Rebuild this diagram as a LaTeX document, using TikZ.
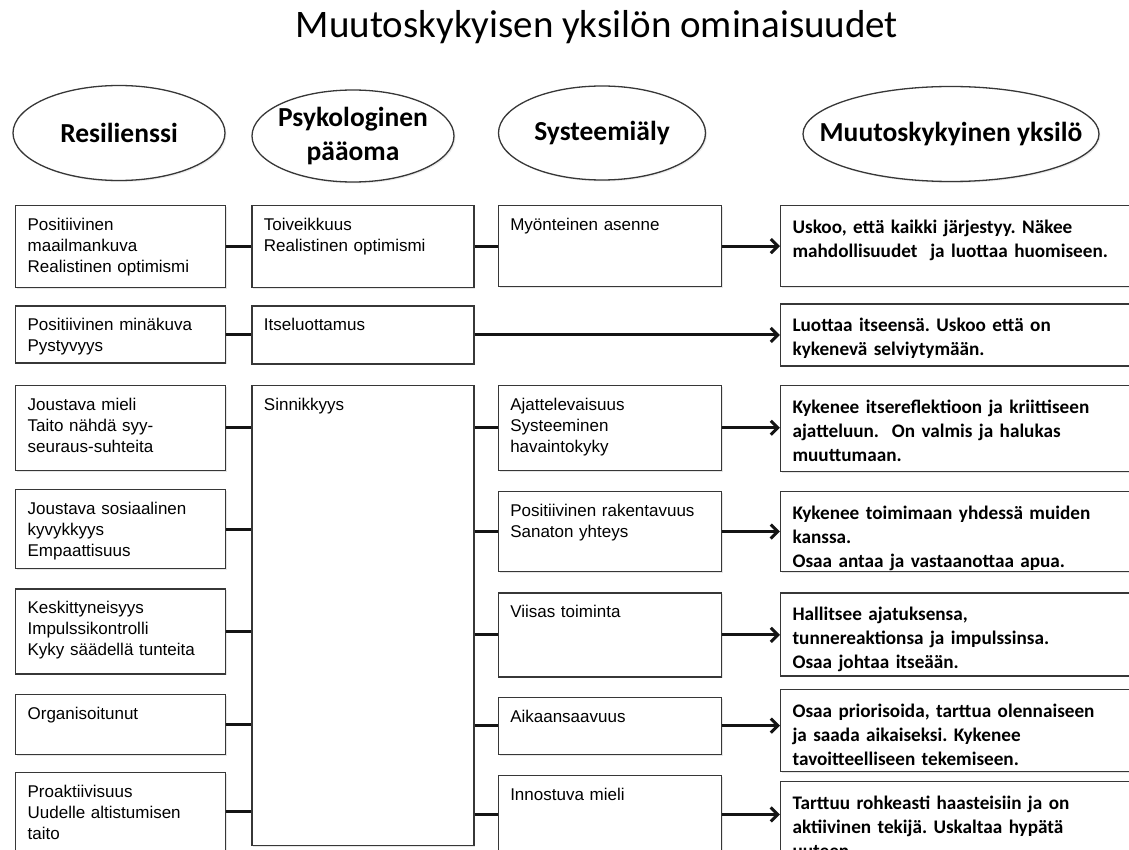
\documentclass[tikz,border=0pt]{standalone}
\usepackage{fontspec}
\setmainfont{Liberation Sans}
\newfontfamily\calibri{Carlito}
\usetikzlibrary{arrows.meta,positioning,shapes.geometric,shadows}
\definecolor{boxColor}{RGB}{55,55,55}
\definecolor{lineColor}{RGB}{20,20,20}
\tikzset{cell/.style 2 args={draw=boxColor, fill=white, line width=1.3pt, anchor=north west, align=left, inner xsep=12pt, inner ysep=0pt, text width={#1-24pt}, text height=25pt, text depth={#2-25pt}, font=\frenchspacing\fontsize{17}{21}\selectfont, drop shadow={shadow xshift=1.5pt, shadow yshift=-1.5pt, opacity=.2}}}
\tikzset{trait/.style 2 args={cell={#1}{#2}, text height=28pt, text depth={#2-28pt}, font=\frenchspacing\calibri\bfseries\fontsize{19.2}{24}\selectfont}}
\tikzset{head/.style={ellipse, draw=boxColor, fill=white, line width=1.3pt, inner sep=0pt, drop shadow={shadow xshift=1.5pt, shadow yshift=-1.5pt, opacity=.15}}}
\tikzset{headtext/.style={font=\calibri\bfseries\fontsize{27.5}{34}\selectfont, align=center}}
\tikzset{link/.style={draw=lineColor, line width=3pt}}
\tikzset{arrow/.style={link, -{Straight Barb[length=7pt, width=14pt]}}}

\begin{document}
\begin{tikzpicture}[x=1pt, y=-1pt]
\useasboundingbox (0,0) rectangle (1129,850);
% Nodes
\node (Otsikko) [font=\calibri\fontsize{39}{47}\selectfont, anchor=base] at (597,38) {Muutoskykyisen yksilön ominaisuudet};

\node (Resilienssi) [head, minimum width=212pt, minimum height=95pt] at (119,133) {};
\node (ResilienssiText) [headtext] at (Resilienssi) {Resilienssi};
\node (Paaoma) [head, minimum width=202pt, minimum height=92pt] at (353,136) {};
\node (PaaomaText) [headtext] at (Paaoma) {Psykologinen\\ pääoma};
\node (Systeemialy) [head, minimum width=207pt, minimum height=94pt] at (602,133) {};
\node (SysteemialyText) [headtext] at (Systeemialy) {Systeemiäly};
\node (Yksilo) [head, minimum width=296pt, minimum height=95pt] at (951,134) {};
\node (YksiloText) [headtext] at (Yksilo) {Muutoskykyinen yksilö};

\node (Maailmankuva) [cell={210}{82}] at (15,205) {Positiivinen\\ maailmankuva\\ Realistinen optimismi};
\node (Minakuva) [cell={210}{57}, below=17pt of Maailmankuva.south west, anchor=north west] {Positiivinen minäkuva\\ Pystyvyys};
\node (JoustavaMieli) [cell={210}{85}, below=21pt of Minakuva.south west, anchor=north west] {Joustava mieli\\ Taito nähdä syy-\\ seuraus-suhteita};
\node (Sosiaalinen) [cell={210}{79}, below=18pt of JoustavaMieli.south west, anchor=north west] {Joustava sosiaalinen\\ kyvykkyys\\ Empaattisuus};
\node (Keskittyneisyys) [cell={210}{85}, below=19pt of Sosiaalinen.south west, anchor=north west] {Keskittyneisyys\\ Impulssikontrolli\\ Kyky säädellä tunteita};
\node (Organisoitunut) [cell={210}{60}, below=19pt of Keskittyneisyys.south west, anchor=north west] {Organisoitunut};
\node (Proaktiivisuus) [cell={210}{79}, below=17pt of Organisoitunut.south west, anchor=north west] {Proaktiivisuus\\ Uudelle altistumisen\\ taito};

\node (Toiveikkuus) [cell={222}{82}, right=25pt of Maailmankuva.north east, anchor=north west] {Toiveikkuus\\ Realistinen optimismi};
\node (Itseluottamus) [cell={222}{58}, right=25pt of Minakuva.north east, anchor=north west] {Itseluottamus};
\node (Sinnikkyys) [cell={222}{460}, right=25pt of JoustavaMieli.north east, anchor=north west] {Sinnikkyys};

\node (Myonteinen) [cell={223}{81}, right=23pt of Toiveikkuus.north east, anchor=north west] {Myönteinen asenne};
\node (Ajattelevaisuus) [cell={223}{85}, right=23pt of Sinnikkyys.north east, anchor=north west] {Ajattelevaisuus\\ Systeeminen\\ havaintokyky};
\node (Rakentavuus) [cell={223}{80}, below=20pt of Ajattelevaisuus.south west, anchor=north west] {Positiivinen rakentavuus\\ Sanaton yhteys};
\node (Viisas) [cell={223}{84}, below=20pt of Rakentavuus.south west, anchor=north west] {Viisas toiminta};
\node (Aikaansaavuus) [cell={223}{57}, below=19pt of Viisas.south west, anchor=north west] {Aikaansaavuus};
\node (Innostuva) [cell={223}{78}, below=20pt of Aikaansaavuus.south west, anchor=north west] {Innostuva mieli};

\node (Uskoo) [trait={352}{81}, right=58pt of Myonteinen.north east, anchor=north west] {Uskoo, että kaikki järjestyy. Näkee\\ mahdollisuudet\ \ ja luottaa huomiseen.};
\node (Luottaa) [trait={352}{62}, below=16pt of Uskoo.south west, anchor=north west] {Luottaa itseensä. Uskoo että on\\ kykenevä selviytymään.};
\node (Itsereflektio) [trait={352}{86}, below=18pt of Luottaa.south west, anchor=north west] {Kykenee itsereflektioon ja kriittiseen\\ ajatteluun.\ \ On valmis ja halukas\\ muuttumaan.};
\node (Yhteistyo) [trait={352}{80}, below=19pt of Itsereflektio.south west, anchor=north west] {Kykenee toimimaan yhdessä muiden\\ kanssa.\\ Osaa antaa ja vastaanottaa apua.};
\node (Hallitsee) [trait={352}{83}, below=20pt of Yhteistyo.south west, anchor=north west] {Hallitsee ajatuksensa,\\ tunnereaktionsa ja impulssinsa.\\ Osaa johtaa itseään.};
\node (Priorisoi) [trait={352}{82}, below=12pt of Hallitsee.south west, anchor=north west] {Osaa priorisoida, tarttua olennaiseen\\ ja saada aikaiseksi. Kykenee\\ tavoitteelliseen tekemiseen.};
\node (Rohkeus) [trait={352}{100}, below=9pt of Priorisoi.south west, anchor=north west] {Tarttuu rohkeasti haasteisiin ja on\\ aktiivinen tekijä. Uskaltaa hypätä\\ uuteen.};

% Connectors
\draw [link] (Maailmankuva.east) -- (Maailmankuva.east -| Toiveikkuus.west);
\draw [link] (Toiveikkuus.east) -- (Toiveikkuus.east -| Myonteinen.west);
\draw [arrow] (Myonteinen.east) -- (Myonteinen.east -| Uskoo.west);

\draw [link] (Minakuva.east) -- (Minakuva.east -| Itseluottamus.west);
\draw [arrow] (Itseluottamus.east) -- (Itseluottamus.east -| Luottaa.west);

\draw [link] (JoustavaMieli.east) -- (JoustavaMieli.east -| Sinnikkyys.west);
\draw [link] (Sosiaalinen.east) -- (Sosiaalinen.east -| Sinnikkyys.west);
\draw [link] (Keskittyneisyys.east) -- (Keskittyneisyys.east -| Sinnikkyys.west);
\draw [link] (Organisoitunut.east) -- (Organisoitunut.east -| Sinnikkyys.west);
\draw [link] (Proaktiivisuus.east) -- (Proaktiivisuus.east -| Sinnikkyys.west);

\draw [link] (Ajattelevaisuus.west -| Sinnikkyys.east) -- (Ajattelevaisuus.west);
\draw [link] (Rakentavuus.west -| Sinnikkyys.east) -- (Rakentavuus.west);
\draw [link] (Viisas.west -| Sinnikkyys.east) -- (Viisas.west);
\draw [link] (Aikaansaavuus.west -| Sinnikkyys.east) -- (Aikaansaavuus.west);
\draw [link] (Innostuva.west -| Sinnikkyys.east) -- (Innostuva.west);

\draw [arrow] (Ajattelevaisuus.east) -- (Ajattelevaisuus.east -| Itsereflektio.west);
\draw [arrow] (Rakentavuus.east) -- (Rakentavuus.east -| Yhteistyo.west);
\draw [arrow] (Viisas.east) -- (Viisas.east -| Hallitsee.west);
\draw [arrow] (Aikaansaavuus.east) -- (Aikaansaavuus.east -| Priorisoi.west);
\draw [arrow] (Innostuva.east) -- (Innostuva.east -| Rohkeus.west);

\end{tikzpicture}
\end{document}
